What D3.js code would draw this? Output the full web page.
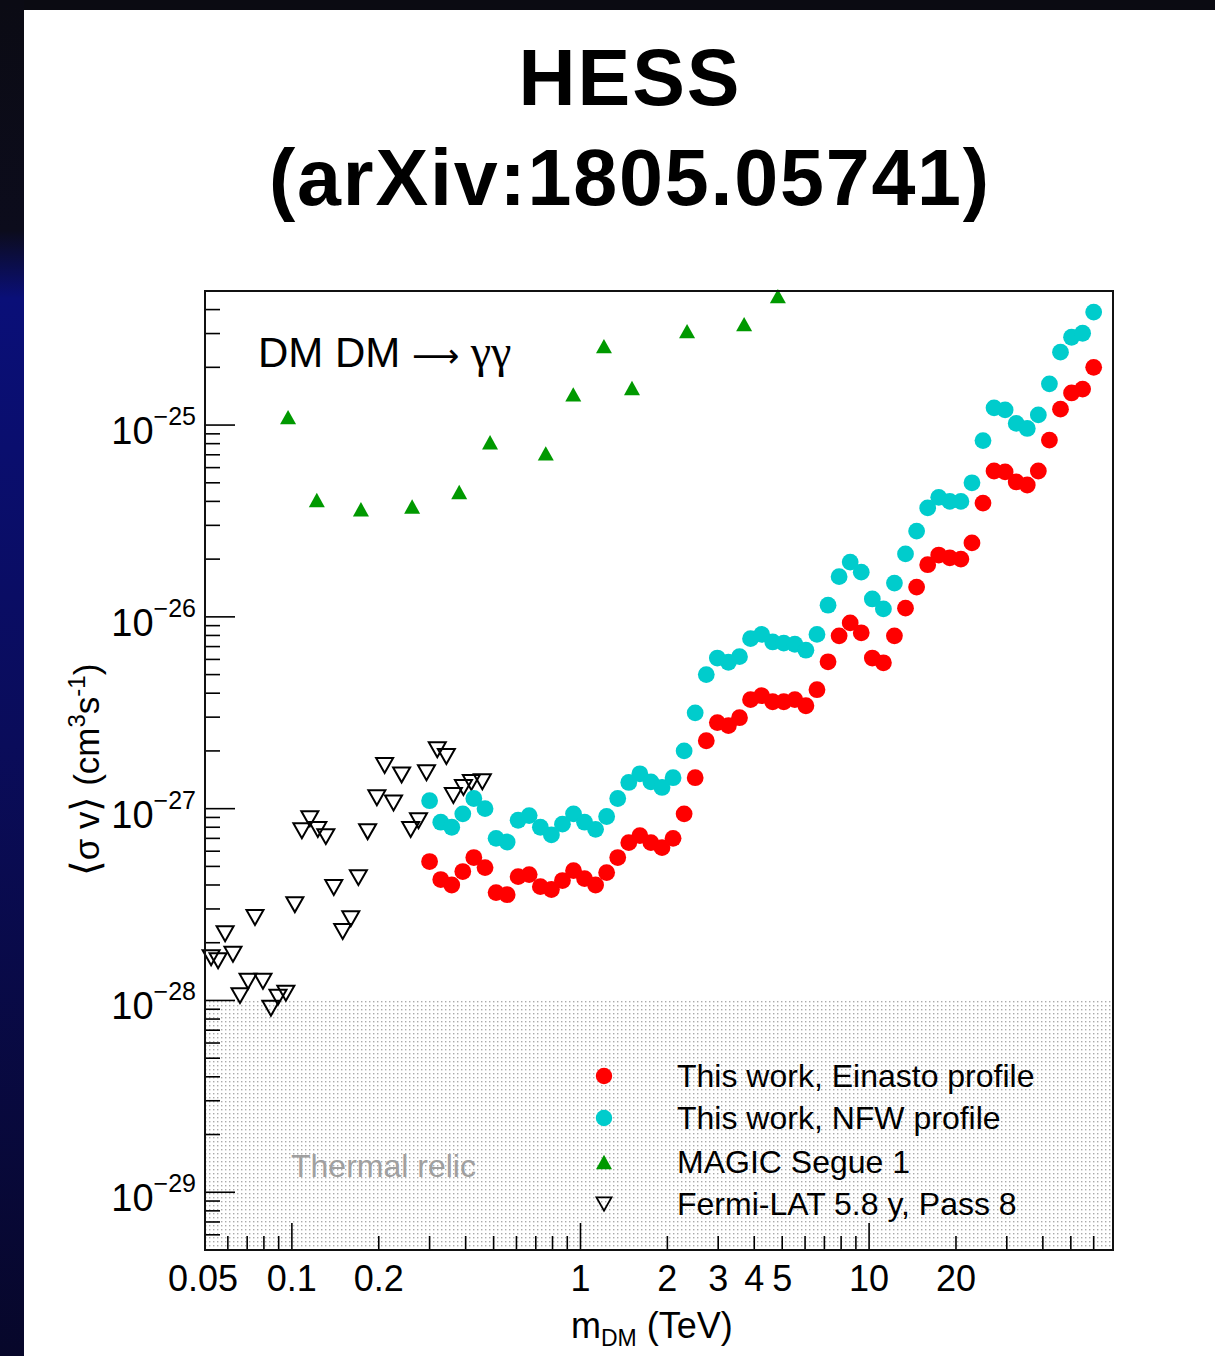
<!DOCTYPE html>
<html>
<head>
<meta charset="utf-8">
<script src="https://cdn.jsdelivr.net/npm/d3@7"></script>
<style>
  html, body { margin: 0; padding: 0; background: #0b0b12; }
  svg { display: block; }
  text { font-family: "Liberation Sans", Arial, Helvetica, sans-serif; }
</style>
</head>
<body>
<div id="svgcontainer"></div>
<script>
var width = 1215;
var height = 1356;

// HESS masses (TeV), 61 log-spaced points 0.3 - 60
var massHESS = [0.300, 0.328, 0.358, 0.391, 0.427, 0.467, 0.510, 0.557, 0.608, 0.664,
  0.726, 0.793, 0.866, 0.946, 1.033, 1.128, 1.232, 1.346, 1.470, 1.606,
  1.754, 1.916, 2.093, 2.286, 2.497, 2.728, 2.980, 3.255, 3.556, 3.884,
  4.243, 4.634, 5.062, 5.530, 6.040, 6.598, 7.207, 7.873, 8.600, 9.393,
  10.26, 11.21, 12.24, 13.37, 14.61, 15.96, 17.43, 19.04, 20.80, 22.72,
  24.81, 27.10, 29.60, 32.34, 35.32, 38.58, 42.15, 46.04, 50.29, 54.93, 60.00];

var sigvEinasto = [5.3e-28, 4.27e-28, 4.0e-28, 4.7e-28, 5.56e-28, 4.93e-28, 3.65e-28, 3.56e-28, 4.42e-28, 4.53e-28,
  3.92e-28, 3.79e-28, 4.22e-28, 4.75e-28, 4.32e-28, 4.0e-28, 4.64e-28, 5.56e-28, 6.65e-28, 7.23e-28,
  6.65e-28, 6.26e-28, 7.0e-28, 9.4e-28, 1.45e-27, 2.26e-27, 2.81e-27, 2.71e-27, 2.98e-27, 3.70e-27,
  3.88e-27, 3.61e-27, 3.61e-27, 3.70e-27, 3.44e-27, 4.17e-27, 5.83e-27, 7.96e-27, 9.3e-27, 8.26e-27,
  6.1e-27, 5.76e-27, 7.96e-27, 1.11e-26, 1.43e-26, 1.87e-26, 2.10e-26, 2.03e-26, 2.0e-26, 2.43e-26,
  3.92e-26, 5.76e-26, 5.7e-26, 5.05e-26, 4.87e-26, 5.76e-26, 8.35e-26, 1.21e-25, 1.47e-25, 1.54e-25, 2.0e-25];

var sigvNFW = [1.10e-27, 8.5e-28, 8.0e-28, 9.4e-28, 1.13e-27, 1.0e-27, 7.0e-28, 6.7e-28, 8.7e-28, 9.2e-28,
  8.0e-28, 7.3e-28, 8.3e-28, 9.4e-28, 8.5e-28, 7.8e-28, 9.1e-28, 1.13e-27, 1.37e-27, 1.52e-27,
  1.38e-27, 1.29e-27, 1.45e-27, 2.0e-27, 3.16e-27, 5.0e-27, 6.1e-27, 5.8e-27, 6.2e-27, 7.7e-27,
  8.1e-27, 7.4e-27, 7.3e-27, 7.2e-27, 6.7e-27, 8.1e-27, 1.15e-26, 1.62e-26, 1.93e-26, 1.71e-26,
  1.24e-26, 1.10e-26, 1.50e-26, 2.13e-26, 2.80e-26, 3.70e-26, 4.2e-26, 4.0e-26, 4.0e-26, 5.0e-26,
  8.3e-26, 1.23e-25, 1.20e-25, 1.02e-25, 9.6e-26, 1.13e-25, 1.64e-25, 2.40e-25, 2.87e-25, 3.01e-25, 3.88e-25];

var massMAGIC = [0.097, 0.122, 0.1735, 0.261, 0.380, 0.486, 0.758, 0.944, 1.206, 1.508, 2.34, 3.69, 4.83];
var sigvMAGIC = [1.10e-25, 4.07e-26, 3.64e-26, 3.76e-26, 4.48e-26, 8.13e-26, 7.12e-26, 1.445e-25, 2.58e-25, 1.56e-25, 3.09e-25, 3.36e-25, 4.70e-25];

var massFermi = [0.0525, 0.0555, 0.0587, 0.0625, 0.0661, 0.0705, 0.0745, 0.0794, 0.0846, 0.0895,
  0.0953, 0.1024, 0.1083, 0.1154, 0.1230, 0.1311, 0.1397, 0.150, 0.160, 0.170,
  0.183, 0.197, 0.2096, 0.225, 0.240, 0.258, 0.2746, 0.2927, 0.319, 0.343,
  0.3627, 0.393, 0.4186, 0.457];
var sigvFermi = [1.67e-28, 1.61e-28, 2.23e-28, 1.74e-28, 1.06e-28, 1.26e-28, 2.71e-28, 1.26e-28, 9.1e-29, 1.04e-28,
  1.09e-28, 3.16e-28, 7.68e-28, 8.87e-28, 7.78e-28, 7.15e-28, 3.88e-28, 2.29e-28, 2.67e-28, 4.37e-28,
  7.59e-28, 1.14e-27, 1.68e-27, 1.07e-27, 1.50e-27, 7.78e-28, 8.66e-28, 1.54e-27, 2.03e-27, 1.87e-27,
  1.17e-27, 1.29e-27, 1.37e-27, 1.38e-27];

var thermalRelic = 1e-28;

var xMajor = [0.1, 1, 10];
var xLabels = [0.05, 0.1, 0.2, 1, 2, 3, 4, 5, 10, 20];
var yPowers = [-29, -28, -27, -26, -25];

var legendLabels = ["This work, Einasto profile", "This work, NFW profile", "MAGIC Segue 1", "Fermi-LAT 5.8 y, Pass 8"];

var red = "#ff0000", cyan = "#00cccc", green = "#009900";

// frame
var fx1 = 205, fx2 = 1113, fy1 = 291, fy2 = 1250;

var svg = d3.select("#svgcontainer")
    .append("svg")
    .attr("width", width)
    .attr("height", height);

var defs = svg.append("defs");
var grad = defs.append("linearGradient").attr("id", "leftgrad")
  .attr("x1", 0).attr("y1", 0).attr("x2", 0).attr("y2", 1);
grad.append("stop").attr("offset", "0%").attr("stop-color", "#0b0b14");
grad.append("stop").attr("offset", "17%").attr("stop-color", "#0c0c1c");
grad.append("stop").attr("offset", "22%").attr("stop-color", "#0a0f78");
grad.append("stop").attr("offset", "55%").attr("stop-color", "#0a0c5a");
grad.append("stop").attr("offset", "100%").attr("stop-color", "#07072a");

var pat = defs.append("pattern").attr("id", "dots")
  .attr("patternUnits", "userSpaceOnUse")
  .attr("width", 4).attr("height", 4);
pat.append("rect").attr("width", 4).attr("height", 4).attr("fill", "#ffffff");
pat.append("rect").attr("x", 1).attr("y", 1).attr("width", 1.4).attr("height", 1.4).attr("fill", "#aaaaaa");

// slide background
svg.append("rect").attr("width", width).attr("height", height).attr("fill", "#0b0b12");
svg.append("rect").attr("x", 0).attr("y", 0).attr("width", 24).attr("height", height).attr("fill", "url(#leftgrad)");
svg.append("rect").attr("x", 24).attr("y", 10).attr("width", width - 24).attr("height", height - 10).attr("fill", "#ffffff");

// title
svg.append("text").attr("x", 630).attr("y", 105).attr("text-anchor", "middle")
  .style("font-size", "79px").style("font-weight", "bold").style("letter-spacing", "2px").text("HESS");
svg.append("text").attr("x", 630).attr("y", 205).attr("text-anchor", "middle")
  .style("font-size", "79px").style("font-weight", "bold").style("letter-spacing", "1.8px").text("(arXiv:1805.05741)");

var x = d3.scaleLog().domain([0.05, 70]).range([fx1, fx2]);
var y = d3.scaleLog().domain([5e-30, 5e-25]).range([fy2, fy1]);

// thermal relic shading
svg.append("rect")
  .attr("x", fx1).attr("y", y(thermalRelic))
  .attr("width", fx2 - fx1).attr("height", fy2 - y(thermalRelic))
  .attr("fill", "url(#dots)");
svg.append("text").attr("x", 291).attr("y", 1177)
  .style("font-size", "32px").style("fill", "#a0a0a0").text("Thermal relic");

// ticks
var xMinor = [];
[0.01, 0.1, 1, 10].forEach(function(dec){
  for (var k = 2; k <= 9; k++) {
    var v = dec * k;
    if (v > 0.05 && v < 70) xMinor.push(v);
  }
});
var yMinor = [];
[1e-30, 1e-29, 1e-28, 1e-27, 1e-26, 1e-25].forEach(function(dec){
  for (var k = 2; k <= 9; k++) {
    var v = dec * k;
    if (v > 5e-30 && v < 5e-25) yMinor.push(v);
  }
});

var ticks = svg.append("g").style("stroke", "#000").style("stroke-width", 1.6);
ticks.selectAll(".xmaj").data(xMajor).enter().append("line")
  .attr("x1", function(d){ return x(d); }).attr("x2", function(d){ return x(d); })
  .attr("y1", fy2).attr("y2", fy2 - 27);
ticks.selectAll(".xmin").data(xMinor).enter().append("line")
  .attr("x1", function(d){ return x(d); }).attr("x2", function(d){ return x(d); })
  .attr("y1", fy2).attr("y2", fy2 - 14);
ticks.selectAll(".ymaj").data(yPowers).enter().append("line")
  .attr("x1", fx1).attr("x2", fx1 + 30)
  .attr("y1", function(d){ return y(Math.pow(10, d)); }).attr("y2", function(d){ return y(Math.pow(10, d)); });
ticks.selectAll(".ymin").data(yMinor).enter().append("line")
  .attr("x1", fx1).attr("x2", fx1 + 15)
  .attr("y1", function(d){ return y(d); }).attr("y2", function(d){ return y(d); });

// tick labels
svg.selectAll(".xlab").data(xLabels).enter().append("text")
  .attr("x", function(d){ return x(d) - (d == 0.05 ? 2 : 0); }).attr("y", 1291)
  .attr("text-anchor", "middle")
  .style("font-size", "36px")
  .text(function(d){ return String(d); });

var ylab = svg.selectAll(".ylab").data(yPowers).enter().append("text")
  .attr("x", 196).attr("y", function(d){ return y(Math.pow(10, d)) + 19; })
  .attr("text-anchor", "end")
  .style("font-size", "38px");
ylab.append("tspan").text("10");
ylab.append("tspan").attr("dy", -19).style("font-size", "25px")
  .text(function(d){ return "\u2212" + Math.abs(d); });

// axis titles
var xt = svg.append("text").attr("x", 571).attr("y", 1338).style("font-size", "36px");
xt.append("tspan").text("m");
xt.append("tspan").attr("dy", 8).style("font-size", "23px").text("DM");
xt.append("tspan").attr("dy", -8).text(" (TeV)");

var yt = svg.append("text")
  .attr("transform", "translate(99,770) rotate(-90)")
  .attr("text-anchor", "middle")
  .style("font-size", "35px");
yt.append("tspan").style("font-size", "40px").text("\u27E8");
yt.append("tspan").text("\u03C3 v");
yt.append("tspan").style("font-size", "40px").text("\u27E9");
yt.append("tspan").text(" (cm");
yt.append("tspan").attr("dy", -14).style("font-size", "24px").text("3");
yt.append("tspan").attr("dy", 14).text("s");
yt.append("tspan").attr("dy", -14).style("font-size", "24px").text("-1");
yt.append("tspan").attr("dy", 14).text(")");

// process label
var pl = svg.append("text").attr("x", 258).attr("y", 367).style("font-size", "42px");
pl.append("tspan").text("DM DM ");
pl.append("tspan").style("font-family", "'DejaVu Sans', sans-serif").style("font-size", "33px").text("\u27F6");
pl.append("tspan").style("font-family", "'Liberation Serif', 'Times New Roman', serif").style("font-size", "46px").text(" \u03B3\u03B3");

// markers
function triUp(s){ return "M0," + (-s*0.9) + "L" + s + "," + (s*0.9) + "L" + (-s) + "," + (s*0.9) + "Z"; }
function triDown(s){ return "M" + (-s) + "," + (-s*0.88) + "L" + s + "," + (-s*0.88) + "L0," + (s*0.88) + "Z"; }

var magic = massMAGIC.map(function(m, i){ return { m: m, v: sigvMAGIC[i] }; });
var fermi = massFermi.map(function(m, i){ return { m: m, v: sigvFermi[i] }; });
var ein = massHESS.map(function(m, i){ return { m: m, v: sigvEinasto[i] }; });
var nfw = massHESS.map(function(m, i){ return { m: m, v: sigvNFW[i] }; });

svg.append("g").selectAll("path").data(fermi).enter().append("path")
  .attr("d", triDown(8.5))
  .attr("transform", function(d){ return "translate(" + x(d.m) + "," + y(d.v) + ")"; })
  .style("fill", "none").style("stroke", "#000").style("stroke-width", 2);

svg.append("g").selectAll("circle").data(nfw).enter().append("circle")
  .attr("cx", function(d){ return x(d.m); }).attr("cy", function(d){ return y(d.v); })
  .attr("r", 8.4).style("fill", cyan);

svg.append("g").selectAll("circle").data(ein).enter().append("circle")
  .attr("cx", function(d){ return x(d.m); }).attr("cy", function(d){ return y(d.v); })
  .attr("r", 8.4).style("fill", red);

svg.append("g").selectAll("path").data(magic).enter().append("path")
  .attr("d", triUp(8))
  .attr("transform", function(d){ return "translate(" + x(d.m) + "," + y(d.v) + ")"; })
  .style("fill", green);

// frame
svg.append("rect").attr("x", fx1).attr("y", fy1)
  .attr("width", fx2 - fx1).attr("height", fy2 - fy1)
  .style("fill", "none").style("stroke", "#111").style("stroke-width", 2);

// legend
var legY = [1076, 1118, 1162, 1204];
var lx = 604;
svg.append("circle").attr("cx", lx).attr("cy", legY[0]).attr("r", 8.2).style("fill", red);
svg.append("circle").attr("cx", lx).attr("cy", legY[1]).attr("r", 8.2).style("fill", cyan);
svg.append("path").attr("d", triUp(8)).attr("transform", "translate(" + lx + "," + legY[2] + ")").style("fill", green);
svg.append("path").attr("d", triDown(7.5)).attr("transform", "translate(" + lx + "," + legY[3] + ")")
  .style("fill", "none").style("stroke", "#000").style("stroke-width", 1.8);

svg.selectAll(".leg").data(legendLabels).enter().append("text")
  .attr("x", 677).attr("y", function(d, i){ return legY[i] + 11; })
  .style("font-size", "32px")
  .text(function(d){ return d; });
</script>
</body>
</html>
